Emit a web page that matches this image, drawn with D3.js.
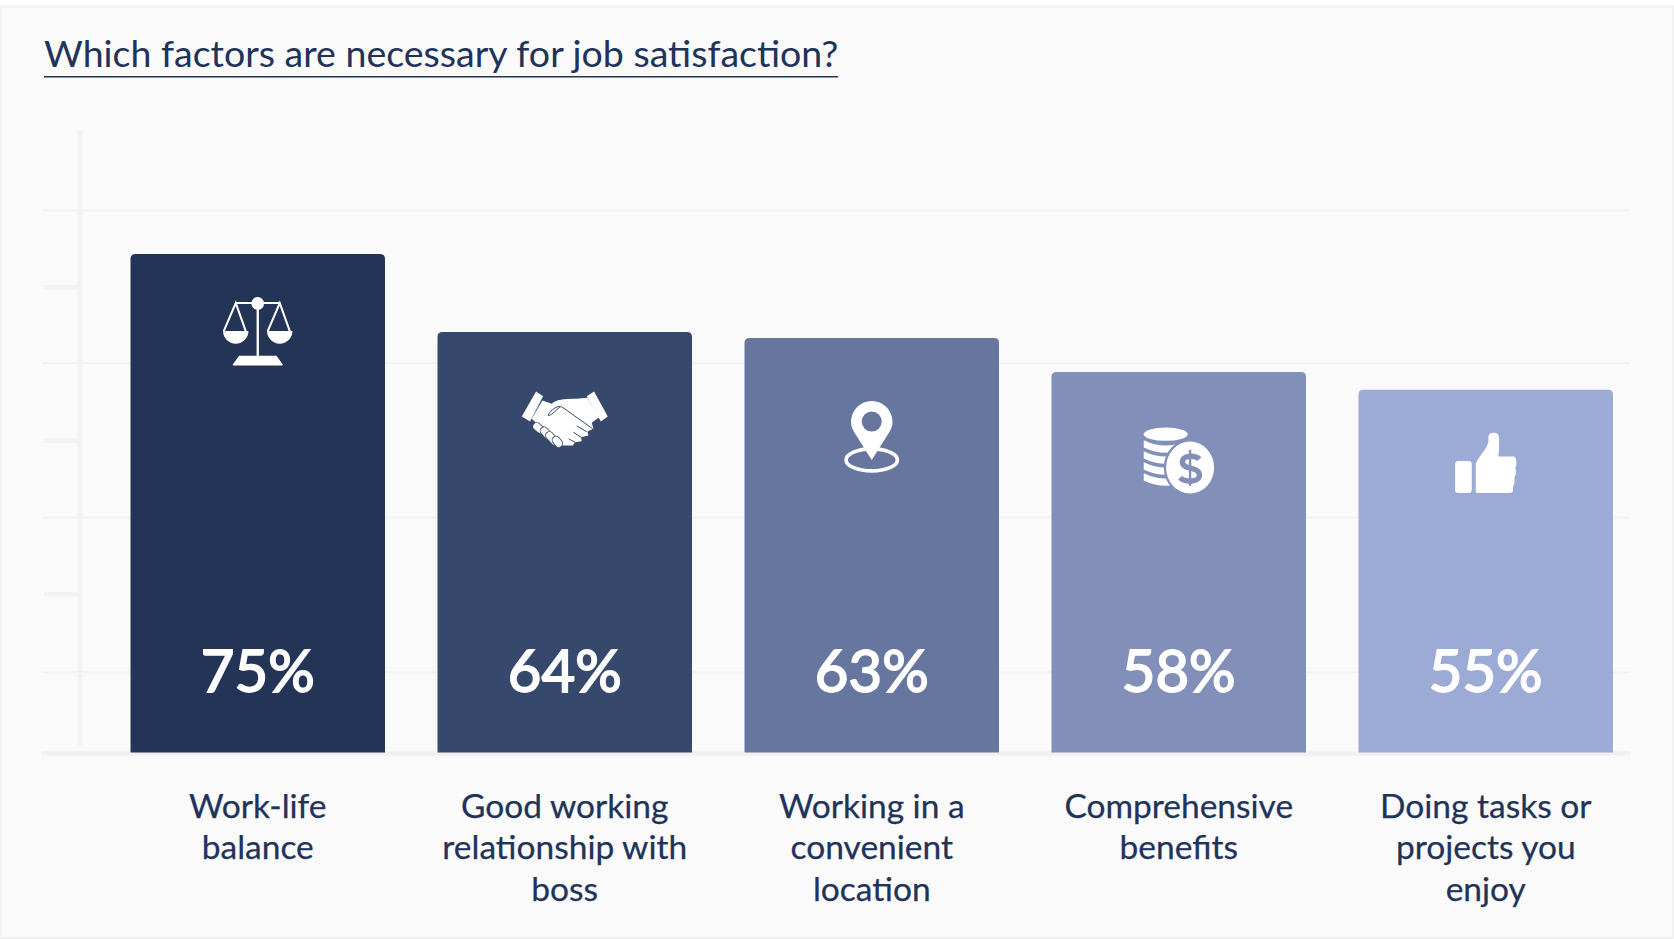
<!DOCTYPE html>
<html>
<head>
<meta charset="utf-8">
<script src="https://cdn.jsdelivr.net/npm/d3@7"></script>
<style>
  body { margin: 0; background: #ffffff; }
  text { font-family: Lato, "Open Sans", sans-serif; text-rendering: optimizeLegibility; font-variant-ligatures: common-ligatures; }
</style>
</head>
<body>
<svg id="chart" width="1674" height="939"></svg>
<script>
const chartTitle = "Which factors are necessary for job satisfaction?";
const categories = ["Work-life balance", "Good working relationship with boss", "Working in a convenient location", "Comprehensive benefits", "Doing tasks or projects you enjoy"];
const categoryLines = [
  ["Work-life", "balance"],
  ["Good working", "relationship with", "boss"],
  ["Working in a", "convenient", "location"],
  ["Comprehensive", "benefits"],
  ["Doing tasks or", "projects you", "enjoy"]
];
// printed labels
const values = [75, 64, 63, 58, 55];
// bar lengths as measured; the first bar is drawn a bit taller than its label
const barLengths = [76, 64.1, 63.2, 58, 55.3];
const barColors = ["#243457", "#36486c", "#67769e", "#8290b9", "#9caad6"];
// the axis has no labels, these are just where its lines sit
const gridTicks = [12.3, 35.9, 59.4, 82.7];
const minorTicks = [24.2, 47.6, 71];

const svg = d3.select("#chart");
const baseY = 752.5;
const left = 42, right = 1630;

const x = d3.scaleBand().domain(categories).range([130.5, 1613]).paddingInner(0.171);
const y = d3.scaleLinear().domain([0, 100]).range([baseY, baseY - 656]);

// card behind the chart
svg.append("rect")
  .attr("x", 0.5).attr("y", 6.5).attr("width", 1672.5).attr("height", 931.5)
  .attr("fill", "#fafafa").attr("stroke", "#f1f1f1").attr("stroke-width", 2);

// Title with underline
svg.append("text")
  .attr("x", 44).attr("y", 67)
  .attr("font-size", 37.5)
  .attr("fill", "#213359")
  .text(chartTitle);
svg.append("line")
  .attr("x1", 44).attr("x2", 838).attr("y1", 76.8).attr("y2", 76.8)
  .attr("stroke", "#213359").attr("stroke-width", 1.6);

// Grid lines
const grid = svg.append("g").attr("transform", `translate(${right},0)`)
  .call(d3.axisLeft(y).tickValues(gridTicks).tickSize(right - left).tickFormat(""));
grid.select(".domain").remove();
grid.selectAll("line").attr("stroke", "#f2f2f2").attr("stroke-width", 2);

// Short thick ticks on the left
const minor = svg.append("g").attr("transform", "translate(80,0)")
  .call(d3.axisLeft(y).tickValues(minorTicks).tickSize(36).tickFormat(""));
minor.select(".domain").remove();
minor.selectAll("line").attr("stroke", "#f2f2f2").attr("stroke-width", 4.5);

// Vertical spine
svg.append("line")
  .attr("x1", 80).attr("x2", 80).attr("y1", y(94.9)).attr("y2", y(1.1))
  .attr("stroke", "#f2f2f2").attr("stroke-width", 4.5);

// Baseline
svg.append("line")
  .attr("x1", left).attr("x2", right).attr("y1", baseY + 1).attr("y2", baseY + 1)
  .attr("stroke", "#f0f0f0").attr("stroke-width", 4.5);

// Bars, top corners rounded
const barPath = (d, i) => {
  const x0 = x(d), w = x.bandwidth(), t = y(barLengths[i]), r = 5;
  return `M${x0},${baseY}V${t + r}Q${x0},${t} ${x0 + r},${t}H${x0 + w - r}Q${x0 + w},${t} ${x0 + w},${t + r}V${baseY}Z`;
};
svg.selectAll(".bar").data(categories).join("path")
  .attr("class", "bar")
  .attr("d", barPath)
  .attr("fill", (d, i) => barColors[i]);

// Percent labels
svg.selectAll(".value").data(categories).join("text")
  .attr("class", "value")
  .attr("x", d => x(d) + x.bandwidth() / 2)
  .attr("y", 691.5)
  .attr("text-anchor", "middle")
  .attr("font-size", 58)
  .attr("fill", "#ffffff")
  .attr("stroke", "#ffffff")
  .attr("stroke-width", 1.8)
  .text((d, i) => `${values[i]}%`);

// Category labels
const labels = svg.selectAll(".cat").data(categories).join("text")
  .attr("class", "cat")
  .attr("text-anchor", "middle")
  .attr("font-size", 33.5)
  .attr("fill", "#213359")
  .attr("stroke", "#213359")
  .attr("stroke-width", 0.25);
labels.each(function (d, i) {
  d3.select(this).selectAll("tspan").data(categoryLines[i]).join("tspan")
    .attr("x", x(d) + x.bandwidth() / 2)
    .attr("y", (line, k) => 817.5 + k * 41.5)
    .text(line => line);
});

// Icons are drawn in zoomed-up units (3x) around (0,0) = middle of the bar, top of the icon
function drawScales(g, color) {
  g.append("circle").attr("cx", 0).attr("cy", 21).attr("r", 19).attr("fill", "#fff");
  g.append("path").attr("d", "M0,20V180").attr("stroke", "#fff").attr("stroke-width", 7);
  g.append("path").attr("d", "M-66,20H64").attr("stroke", "#fff").attr("stroke-width", 6);
  g.append("path").attr("d", "M-56,178H56L75,204Q76,207 72,207H-72Q-76,207 -75,204Z").attr("fill", "#fff");
  [-66, 66].forEach(c => {
    g.append("path").attr("d", `M${c - 38},104A38,38 0 0 0 ${c + 38},104Z`).attr("fill", "#fff");
    g.append("path").attr("d", `M${c - 36},104L${c},20L${c + 30},104`)
      .attr("fill", "none").attr("stroke", "#fff").attr("stroke-width", 6);
  });
}

function drawHandshake(g, color) {
  // cuffs
  g.append("path").attr("d", "M-86,0L-65,14L-104,90L-129,75Z").attr("fill", "#fff");
  g.append("path").attr("d", "M88,0L66,14L108,90L129,75Z").attr("fill", "#fff");
  // hands
  g.append("path")
    .attr("d", "M-67,27L-39,37C-25,24 -5,22 36,22L68,19L103,77L81,94L86,112L68,120L71,132L49,137L51,149L31,152L24,162L-9,162L-60,120L-99,82Z")
    .attr("fill", "#fff");
  // fold between the hands
  g.append("path").attr("d", "M-14,44C-30,46 -48,62 -50,72C-36,72 -24,50 -10,45L84,112")
    .attr("fill", "none").attr("stroke", color).attr("stroke-width", 3);
  g.append("path").attr("d", "M36,103L66,121M26,122L50,138M12,142L32,153")
    .attr("fill", "none").attr("stroke", color).attr("stroke-width", 3);
  // fingers
  [[-84, 105, -72, 115], [-62, 118, -46, 136], [-46, 132, -30, 150], [-26, 146, -18, 156]].forEach(f => {
    const d = `M${f[0]},${f[1]}L${f[2]},${f[3]}`;
    g.append("path").attr("d", d).attr("stroke", color).attr("stroke-width", 26).attr("stroke-linecap", "round");
    g.append("path").attr("d", d).attr("stroke", "#fff").attr("stroke-width", 21).attr("stroke-linecap", "round");
  });
}

function drawPin(g, color) {
  g.append("ellipse").attr("cx", 0).attr("cy", 177).attr("rx", 77).attr("ry", 33)
    .attr("fill", "none").attr("stroke", "#fff").attr("stroke-width", 11);
  g.append("path")
    .attr("d", "M0,177L-52,95C-62,78 -62,70 -62,62A62,62 0 0 1 62,62C62,70 62,78 52,95Z")
    .attr("fill", "#fff");
  g.append("circle").attr("cx", 0).attr("cy", 62).attr("r", 30).attr("fill", color);
}

function drawCoins(g, color) {
  g.append("ellipse").attr("cx", -39).attr("cy", 20).attr("rx", 66).attr("ry", 20).attr("fill", "#fff");
  [38, 71, 104, 137].forEach(t => {
    g.append("path").attr("d", `M-105,${t}Q-39,${t + 32} 27,${t}V${t + 22}Q-39,${t + 54} -105,${t + 22}Z`).attr("fill", "#fff");
  });
  g.append("ellipse").attr("cx", 34).attr("cy", 120).attr("rx", 79).attr("ry", 85).attr("fill", color);
  g.append("ellipse").attr("cx", 34).attr("cy", 120).attr("rx", 72).attr("ry", 78).attr("fill", "#fff");
  g.append("path").attr("d", "M62,95C49,82 9,82 11,105C13,128 62,115 62,143C62,165 19,165 4,150")
    .attr("fill", "none").attr("stroke", color).attr("stroke-width", 16);
  g.append("path").attr("d", "M34,67V175").attr("stroke", color).attr("stroke-width", 7);
}

function drawThumb(g, color) {
  g.append("rect").attr("x", -92).attr("y", 85).attr("width", 50).attr("height", 96).attr("rx", 10).attr("fill", "#fff");
  g.append("path")
    .attr("d", "M-30,93C-18,66 0,55 8,28V14C8,4 14,0 25,0C36,0 40,8 40,16V50C40,62 36,71 38,71H84C94,71 94,103 88,105C92,110 92,130 85,133C88,140 86,158 82,160V172C82,178 78,181 72,181H-24C-29,181 -30,178 -30,174Z")
    .attr("fill", "#fff");
}

const icons = [
  { draw: drawScales, top: 42.5 },
  { draw: drawHandshake, top: 59.5 },
  { draw: drawPin, top: 63 },
  { draw: drawCoins, top: 55.5 },
  { draw: drawThumb, top: 43 }
];
categories.forEach((c, i) => {
  const g = svg.append("g")
    .attr("transform", `translate(${x(c) + x.bandwidth() / 2},${y(barLengths[i]) + icons[i].top}) scale(${1 / 3})`);
  icons[i].draw(g, barColors[i]);
});
</script>
</body>
</html>
